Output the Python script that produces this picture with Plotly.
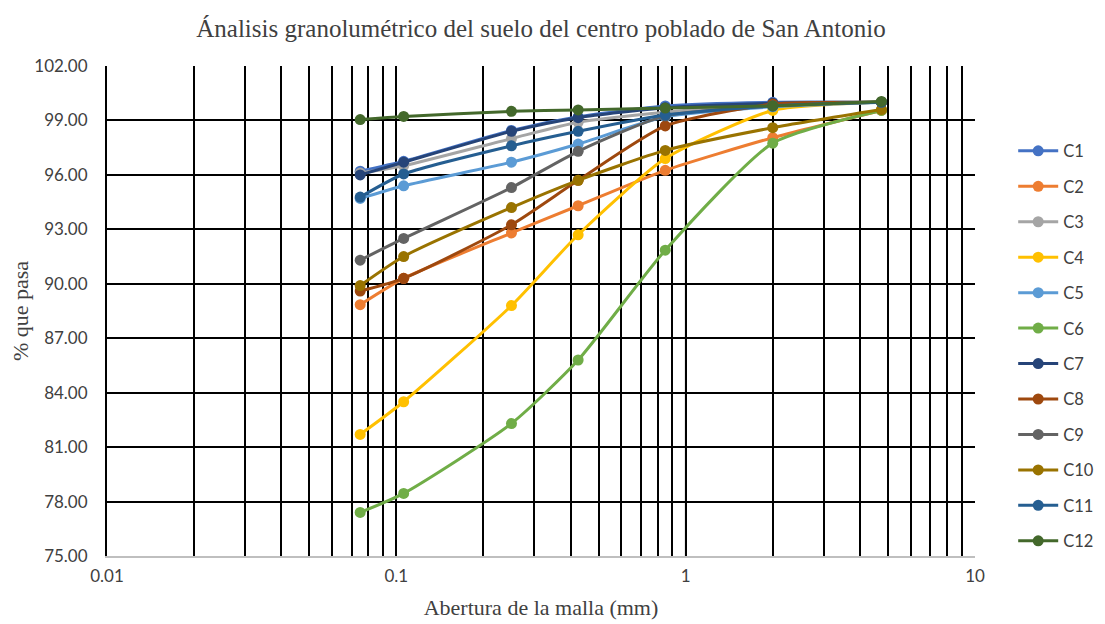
import plotly.graph_objects as go

# --- data ---
abertura = [0.075, 0.106, 0.25, 0.425, 0.85, 2.0, 4.75]

series_names = ["C1", "C2", "C3", "C4", "C5", "C6", "C7", "C8", "C9", "C10", "C11", "C12"]
c1 = [96.2, 96.75, 98.45, 99.2, 99.8, 100.0, 100.0]
c2 = [88.85, 90.3, 92.8, 94.3, 96.25, 98.05, 99.55]
c3 = [96.1, 96.5, 98.0, 98.9, 99.45, 99.9, 100.0]
c4 = [81.7, 83.5, 88.8, 92.7, 96.9, 99.55, 100.0]
c5 = [94.7, 95.4, 96.7, 97.7, 99.2, 99.75, 100.0]
c6 = [77.4, 78.45, 82.3, 85.8, 91.85, 97.75, 99.55]
c7 = [96.0, 96.7, 98.4, 99.15, 99.7, 99.95, 100.0]
c8 = [89.6, 90.3, 93.25, 95.7, 98.7, 99.9, 100.0]
c9 = [91.3, 92.5, 95.3, 97.3, 99.25, 99.8, 100.0]
c10 = [89.9, 91.5, 94.2, 95.7, 97.35, 98.6, 99.6]
c11 = [94.78, 96.05, 97.6, 98.4, 99.3, 99.8, 100.0]
c12 = [99.05, 99.22, 99.5, 99.58, 99.68, 99.8, 100.05]
all_values = [c1, c2, c3, c4, c5, c6, c7, c8, c9, c10, c11, c12]

colors = ["#4472C4", "#ED7D31", "#A5A5A5", "#FFC000", "#5B9BD5", "#70AD47",
          "#264478", "#9E480E", "#636363", "#997300", "#255E91", "#43682B"]

y_ticks = [75, 78, 81, 84, 87, 90, 93, 96, 99, 102]
x_ticks = [0.01, 0.1, 1, 10]
x_labels = ["0.01", "0.1", "1", "10"]
# log minor gridlines (2..9 in each decade)
x_minor = [m * d for d in (0.01, 0.1, 1) for m in range(2, 10)]

fig = go.Figure()

for name, vals, col in zip(series_names, all_values, colors):
    fig.add_trace(go.Scatter(
        x=abertura, y=vals, name=name, legendgroup=name,
        mode="lines+markers",
        line=dict(color=col, width=3, shape="spline", smoothing=0.6),
        marker=dict(color=col, size=11),
    ))

# Excel draws the major gridline at 1 in light gray
fig.add_shape(type="line", xref="x", yref="paper", x0=1, x1=1, y0=0, y1=1,
              line=dict(color="#BFBFBF", width=2), layer="below")

fig.update_xaxes(
    type="log", range=[-2, 1], automargin=False,
    tickmode="array", tickvals=x_ticks, ticktext=x_labels,
    showgrid=True, gridcolor="black", gridwidth=2,
    minor=dict(tickmode="array", tickvals=x_minor, showgrid=True,
               gridcolor="black", gridwidth=2, ticks=""),
    showline=True, linecolor="#BFBFBF", linewidth=2,
    zeroline=False, ticks="", ticklabelstandoff=4,
    tickfont=dict(family="Lato", size=17, color="#404040"),
    title=dict(text="Abertura de la malla (mm)",
               font=dict(family="Liberation Serif", size=22, color="#404040"),
               standoff=14),
)
fig.update_yaxes(
    range=[75, 102], tickvals=y_ticks, tickformat=".2f", automargin=False,
    showgrid=True, gridcolor="black", gridwidth=2,
    showline=True, linecolor="black", linewidth=2, mirror=False,
    zeroline=False, ticks="", ticklabelstandoff=14,
    tickfont=dict(family="Lato", size=17, color="#404040"),
    title=dict(text="% que pasa",
               font=dict(family="Liberation Serif", size=22, color="#404040"),
               standoff=4),
)

fig.update_layout(
    width=1105, height=624,
    margin=dict(l=99, r=138, t=58, b=76),
    paper_bgcolor="white", plot_bgcolor="white",
    title=dict(text="Ánalisis granolumétrico del suelo del centro poblado de San Antonio",
               x=0.5, xref="paper", xanchor="center", y=0.968, yanchor="middle",
               font=dict(family="Liberation Serif", size=25, color="#404040")),
    legend=dict(x=1.044, y=0.862, xanchor="left", yanchor="top",
                font=dict(family="Lato", size=16.5, color="#404040"),
                tracegroupgap=11, itemwidth=40),
)

fig.write_html("out.html")
